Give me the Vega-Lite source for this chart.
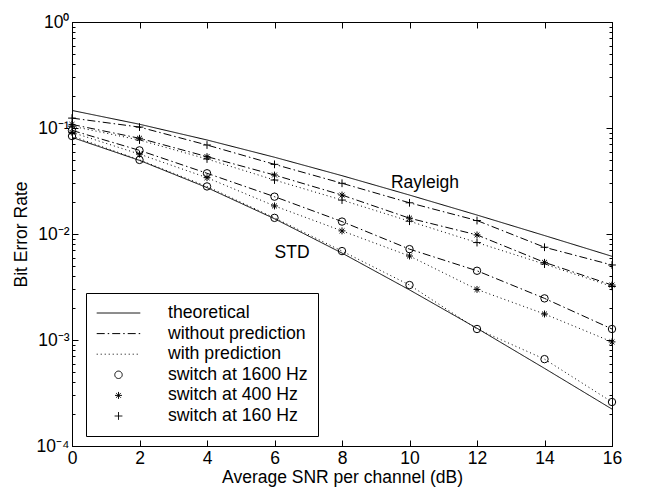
{
  "$schema": "https://vega.github.io/schema/vega-lite/v6.json",
  "width": 540,
  "height": 424,
  "autosize": {"type": "none"},
  "padding": {"left": 72, "top": 22, "right": 33, "bottom": 45},
  "background": "white",
  "config": {
    "view": {"stroke": "black", "strokeWidth": 1},
    "font": "Liberation Sans",
    "axis": {
      "grid": false,
      "domainColor": "black",
      "domainWidth": 1,
      "tickColor": "black",
      "tickWidth": 1,
      "labelColor": "black",
      "labelFont": "Liberation Sans",
      "labelFontSize": 17.5,
      "titleFont": "Liberation Sans",
      "titleFontSize": 17.5,
      "titleFontWeight": "normal",
      "titleColor": "black"
    },
    "legend": {
      "orient": "none",
      "legendX": 14,
      "legendY": 271,
      "padding": 10,
      "strokeColor": "black",
      "fillColor": "white",
      "labelFont": "Liberation Sans",
      "labelFontSize": 17.7,
      "labelColor": "black",
      "labelOffset": 27,
      "labelLimit": 400,
      "clipHeight": 20,
      "rowPadding": 0.6,
      "symbolStrokeColor": "black",
      "symbolStrokeWidth": 1,
      "symbolFillColor": "transparent"
    }
  },
  "datasets": {
    "curves": [
      {"series": "Rayleigh", "style": "theoretical", "snr": 0, "ber": 0.1464},
      {"series": "Rayleigh", "style": "theoretical", "snr": 2, "ber": 0.1085},
      {"series": "Rayleigh", "style": "theoretical", "snr": 4, "ber": 0.0771},
      {"series": "Rayleigh", "style": "theoretical", "snr": 6, "ber": 0.0530},
      {"series": "Rayleigh", "style": "theoretical", "snr": 8, "ber": 0.0355},
      {"series": "Rayleigh", "style": "theoretical", "snr": 10, "ber": 0.0233},
      {"series": "Rayleigh", "style": "theoretical", "snr": 12, "ber": 0.0151},
      {"series": "Rayleigh", "style": "theoretical", "snr": 14, "ber": 0.00967},
      {"series": "Rayleigh", "style": "theoretical", "snr": 16, "ber": 0.00616},
      {"series": "STD", "style": "theoretical", "snr": 0, "ber": 0.0816},
      {"series": "STD", "style": "theoretical", "snr": 2, "ber": 0.0495},
      {"series": "STD", "style": "theoretical", "snr": 4, "ber": 0.0274},
      {"series": "STD", "style": "theoretical", "snr": 6, "ber": 0.01393},
      {"series": "STD", "style": "theoretical", "snr": 8, "ber": 0.00661},
      {"series": "STD", "style": "theoretical", "snr": 10, "ber": 0.00297},
      {"series": "STD", "style": "theoretical", "snr": 12, "ber": 0.00129},
      {"series": "STD", "style": "theoretical", "snr": 14, "ber": 0.00054},
      {"series": "STD", "style": "theoretical", "snr": 16, "ber": 0.000223},
      {"series": "160 without", "style": "without prediction", "rate": "switch at 160 Hz", "snr": 0, "ber": 0.124},
      {"series": "160 without", "style": "without prediction", "rate": "switch at 160 Hz", "snr": 2, "ber": 0.102},
      {"series": "160 without", "style": "without prediction", "rate": "switch at 160 Hz", "snr": 4, "ber": 0.0691},
      {"series": "160 without", "style": "without prediction", "rate": "switch at 160 Hz", "snr": 6, "ber": 0.0454},
      {"series": "160 without", "style": "without prediction", "rate": "switch at 160 Hz", "snr": 8, "ber": 0.0301},
      {"series": "160 without", "style": "without prediction", "rate": "switch at 160 Hz", "snr": 10, "ber": 0.0197},
      {"series": "160 without", "style": "without prediction", "rate": "switch at 160 Hz", "snr": 12, "ber": 0.0134},
      {"series": "160 without", "style": "without prediction", "rate": "switch at 160 Hz", "snr": 14, "ber": 0.0075},
      {"series": "160 without", "style": "without prediction", "rate": "switch at 160 Hz", "snr": 16, "ber": 0.0051},
      {"series": "400 without", "style": "without prediction", "rate": "switch at 400 Hz", "snr": 0, "ber": 0.108},
      {"series": "400 without", "style": "without prediction", "rate": "switch at 400 Hz", "snr": 2, "ber": 0.080},
      {"series": "400 without", "style": "without prediction", "rate": "switch at 400 Hz", "snr": 4, "ber": 0.0537},
      {"series": "400 without", "style": "without prediction", "rate": "switch at 400 Hz", "snr": 6, "ber": 0.036},
      {"series": "400 without", "style": "without prediction", "rate": "switch at 400 Hz", "snr": 8, "ber": 0.0233},
      {"series": "400 without", "style": "without prediction", "rate": "switch at 400 Hz", "snr": 10, "ber": 0.0141},
      {"series": "400 without", "style": "without prediction", "rate": "switch at 400 Hz", "snr": 12, "ber": 0.0098},
      {"series": "400 without", "style": "without prediction", "rate": "switch at 400 Hz", "snr": 14, "ber": 0.0054},
      {"series": "400 without", "style": "without prediction", "rate": "switch at 400 Hz", "snr": 16, "ber": 0.0033},
      {"series": "1600 without", "style": "without prediction", "rate": "switch at 1600 Hz", "snr": 0, "ber": 0.095},
      {"series": "1600 without", "style": "without prediction", "rate": "switch at 1600 Hz", "snr": 2, "ber": 0.0615},
      {"series": "1600 without", "style": "without prediction", "rate": "switch at 1600 Hz", "snr": 4, "ber": 0.0374},
      {"series": "1600 without", "style": "without prediction", "rate": "switch at 1600 Hz", "snr": 6, "ber": 0.0225},
      {"series": "1600 without", "style": "without prediction", "rate": "switch at 1600 Hz", "snr": 8, "ber": 0.0131},
      {"series": "1600 without", "style": "without prediction", "rate": "switch at 1600 Hz", "snr": 10, "ber": 0.0072},
      {"series": "1600 without", "style": "without prediction", "rate": "switch at 1600 Hz", "snr": 12, "ber": 0.0045},
      {"series": "1600 without", "style": "without prediction", "rate": "switch at 1600 Hz", "snr": 14, "ber": 0.00247},
      {"series": "1600 without", "style": "without prediction", "rate": "switch at 1600 Hz", "snr": 16, "ber": 0.00127},
      {"series": "160 with", "style": "with prediction", "rate": "switch at 160 Hz", "snr": 0, "ber": 0.104},
      {"series": "160 with", "style": "with prediction", "rate": "switch at 160 Hz", "snr": 2, "ber": 0.077},
      {"series": "160 with", "style": "with prediction", "rate": "switch at 160 Hz", "snr": 4, "ber": 0.051},
      {"series": "160 with", "style": "with prediction", "rate": "switch at 160 Hz", "snr": 6, "ber": 0.0323},
      {"series": "160 with", "style": "with prediction", "rate": "switch at 160 Hz", "snr": 8, "ber": 0.0209},
      {"series": "160 with", "style": "with prediction", "rate": "switch at 160 Hz", "snr": 10, "ber": 0.0132},
      {"series": "160 with", "style": "with prediction", "rate": "switch at 160 Hz", "snr": 12, "ber": 0.0083},
      {"series": "160 with", "style": "with prediction", "rate": "switch at 160 Hz", "snr": 14, "ber": 0.0052},
      {"series": "160 with", "style": "with prediction", "rate": "switch at 160 Hz", "snr": 16, "ber": 0.0032},
      {"series": "400 with", "style": "with prediction", "rate": "switch at 400 Hz", "snr": 0, "ber": 0.091},
      {"series": "400 with", "style": "with prediction", "rate": "switch at 400 Hz", "snr": 2, "ber": 0.0567},
      {"series": "400 with", "style": "with prediction", "rate": "switch at 400 Hz", "snr": 4, "ber": 0.034},
      {"series": "400 with", "style": "with prediction", "rate": "switch at 400 Hz", "snr": 6, "ber": 0.0184},
      {"series": "400 with", "style": "with prediction", "rate": "switch at 400 Hz", "snr": 8, "ber": 0.0107},
      {"series": "400 with", "style": "with prediction", "rate": "switch at 400 Hz", "snr": 10, "ber": 0.0062},
      {"series": "400 with", "style": "with prediction", "rate": "switch at 400 Hz", "snr": 12, "ber": 0.0030},
      {"series": "400 with", "style": "with prediction", "rate": "switch at 400 Hz", "snr": 14, "ber": 0.00176},
      {"series": "400 with", "style": "with prediction", "rate": "switch at 400 Hz", "snr": 16, "ber": 0.00096},
      {"series": "1600 with", "style": "with prediction", "rate": "switch at 1600 Hz", "snr": 0, "ber": 0.084},
      {"series": "1600 with", "style": "with prediction", "rate": "switch at 1600 Hz", "snr": 2, "ber": 0.0500},
      {"series": "1600 with", "style": "with prediction", "rate": "switch at 1600 Hz", "snr": 4, "ber": 0.0281},
      {"series": "1600 with", "style": "with prediction", "rate": "switch at 1600 Hz", "snr": 6, "ber": 0.0142},
      {"series": "1600 with", "style": "with prediction", "rate": "switch at 1600 Hz", "snr": 8, "ber": 0.0069},
      {"series": "1600 with", "style": "with prediction", "rate": "switch at 1600 Hz", "snr": 10, "ber": 0.0033},
      {"series": "1600 with", "style": "with prediction", "rate": "switch at 1600 Hz", "snr": 12, "ber": 0.00127},
      {"series": "1600 with", "style": "with prediction", "rate": "switch at 1600 Hz", "snr": 14, "ber": 0.00066},
      {"series": "1600 with", "style": "with prediction", "rate": "switch at 1600 Hz", "snr": 16, "ber": 0.00026}
    ],
    "labels": [
      {"label": "Rayleigh", "snr": 10.46, "ber": 0.0303},
      {"label": "STD", "snr": 6.52, "ber": 0.00662}
    ]
  },
  "resolve": {"axis": {"x": "independent", "y": "independent"}},
  "layer": [
    {
      "data": {"name": "curves"},
      "mark": {"type": "line", "color": "black", "strokeWidth": 1, "clip": true},
      "encoding": {
        "x": {
          "field": "snr", "type": "quantitative",
          "scale": {"domain": [0, 16], "nice": false, "zero": false},
          "axis": {
            "orient": "bottom",
            "title": "Average SNR per channel (dB)",
            "titlePadding": 2,
            "values": [0, 2, 4, 6, 8, 10, 12, 14, 16],
            "tickSize": -6,
            "labelPadding": 9,
            "labelFlush": false,
            "labelOverlap": false
          }
        },
        "y": {
          "field": "ber", "type": "quantitative",
          "scale": {"type": "log", "domain": [0.0001, 1], "nice": false},
          "axis": {
            "orient": "left",
            "title": "Bit Error Rate",
            "titlePadding": 6,
            "values": [0.0001, 0.0002, 0.0003, 0.0004, 0.0005, 0.0006, 0.0007, 0.0008, 0.0009, 0.001, 0.002, 0.003, 0.004, 0.005, 0.006, 0.007, 0.008, 0.009, 0.01, 0.02, 0.03, 0.04, 0.05, 0.06, 0.07, 0.08, 0.09, 0.1, 0.2, 0.3, 0.4, 0.5, 0.6, 0.7, 0.8, 0.9, 1],
            "labelExpr": "abs(log(datum.value)/LN10 - round(log(datum.value)/LN10)) < 0.000001 ? ['10⁰','10⁻¹','10⁻²','10⁻³','10⁻⁴'][-round(log(datum.value)/LN10)] : ''",
            "tickSize": {"condition": {"test": "abs(log(datum.value)/LN10 - round(log(datum.value)/LN10)) < 0.000001", "value": -6}, "value": -3},
            "labelPadding": 9,
            "labelFlush": false,
            "labelOverlap": false
          }
        },
        "detail": {"field": "series"},
        "strokeDash": {
          "field": "style", "type": "nominal",
          "scale": {
            "domain": ["theoretical", "without prediction", "with prediction", "switch at 1600 Hz", "switch at 400 Hz", "switch at 160 Hz"],
            "range": [[1, 0], [8, 3, 1.5, 3], [1, 3], [1, 0], [1, 0], [1, 0]]
          },
          "legend": {"title": null, "labelExpr": "datum.label == 'without prediction' ? 'without prediction\u2007\u2007\u2007' : datum.label"}
        }
      }
    },
    {
      "data": {"name": "curves"},
      "transform": [{"filter": "datum.rate != null"}],
      "mark": {"type": "point", "filled": false, "color": "black", "strokeWidth": 1, "opacity": 1, "clip": false},
      "encoding": {
        "x": {
          "field": "snr", "type": "quantitative",
          "axis": {"orient": "top", "title": null, "labels": false, "values": [0, 2, 4, 6, 8, 10, 12, 14, 16], "tickSize": -6}
        },
        "y": {
          "field": "ber", "type": "quantitative",
          "axis": {
            "orient": "right", "title": null, "labels": false,
            "values": [0.0001, 0.0002, 0.0003, 0.0004, 0.0005, 0.0006, 0.0007, 0.0008, 0.0009, 0.001, 0.002, 0.003, 0.004, 0.005, 0.006, 0.007, 0.008, 0.009, 0.01, 0.02, 0.03, 0.04, 0.05, 0.06, 0.07, 0.08, 0.09, 0.1, 0.2, 0.3, 0.4, 0.5, 0.6, 0.7, 0.8, 0.9, 1],
            "tickSize": {"condition": {"test": "abs(log(datum.value)/LN10 - round(log(datum.value)/LN10)) < 0.000001", "value": -6}, "value": -3}
          }
        },
        "shape": {
          "field": "rate", "type": "nominal",
          "scale": {
            "domain": ["theoretical", "without prediction", "with prediction", "switch at 1600 Hz", "switch at 400 Hz", "switch at 160 Hz"],
            "range": ["stroke", "stroke", "stroke", "circle", "M-1,0L1,0M0,-1L0,1M-0.7,-0.7L0.7,0.7M-0.7,0.7L0.7,-0.7", "M-1,0L1,0M0,-1L0,1"]
          },
          "legend": {"title": null, "labelExpr": "datum.label == 'without prediction' ? 'without prediction\u2007\u2007\u2007' : datum.label"}
        },
        "size": {
          "field": "rate", "type": "nominal",
          "scale": {
            "type": "ordinal",
            "domain": ["theoretical", "without prediction", "with prediction", "switch at 1600 Hz", "switch at 400 Hz", "switch at 160 Hz"],
            "range": [1900, 1900, 1900, 55, 48, 60]
          },
          "legend": {"title": null, "labelExpr": "datum.label == 'without prediction' ? 'without prediction\u2007\u2007\u2007' : datum.label"}
        }
      }
    },
    {
      "data": {"name": "labels"},
      "mark": {"type": "text", "font": "Liberation Sans", "fontSize": 17.5, "color": "black", "align": "center", "baseline": "middle"},
      "encoding": {
        "x": {"field": "snr", "type": "quantitative", "axis": null},
        "y": {"field": "ber", "type": "quantitative", "axis": null},
        "text": {"field": "label"}
      }
    }
  ]
}
